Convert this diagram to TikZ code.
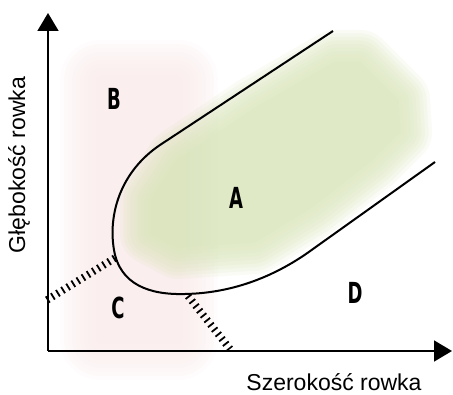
\documentclass[tikz,border=0pt]{standalone}
\usepackage{fontspec}
\setmainfont{Liberation Sans}
\newfontfamily\regfont{DejaVu Sans}
\usetikzlibrary{arrows.meta}
\definecolor{greenc}{RGB}{217,228,186}
\definecolor{pinkc}{RGB}{249,232,232}
\tikzset{
  axis/.style={line width=1.6pt,-{Triangle[length=18pt,width=21pt]}},
  curve/.style={line width=2pt},
  hatch/.style={line width=7.5pt,dash pattern=on 1.8pt off 4.2pt},
  region/.style={font=\fontsize{29}{29}\selectfont\regfont\bfseries},
  axlabel/.style={font=\fontsize{23}{24}\selectfont}
}
\begin{document}
\begin{tikzpicture}[x=1pt,y=-1pt]
\useasboundingbox (0,0) rectangle (453,395);
% pink background (soft)
\foreach \w in {80,72,64,56,48,40,32,24,16,8}{
  \begin{scope}[transparency group,opacity=0.13]
  \filldraw[pinkc,line width=\w pt,line join=round] (100,80) -- (178,80) -- (178,340) -- (100,340) -- cycle;
  \end{scope}
}
% green blob (soft)
\foreach \w in {64,57,50,43,36,29,22,15,8,1}{
  \begin{scope}[transparency group,opacity=0.16]
  \filldraw[greenc,line width=\w pt,line join=round]
    (152,200) -- (178,160) -- (255,108) -- (335,62) -- (360,62) -- (398,100)
    -- (400,132) -- (372,160) -- (312,207) -- (255,242) -- (178,247) -- (152,233) -- cycle;
  \end{scope}
}
% axes
\coordinate (O) at (48,351);
\coordinate (Y) at (48,13);
\coordinate (X) at (452,351);
\draw[axis] (O) -- (Y);
\draw[axis] (O) -- (X);
% boundary curve
\coordinate (c1) at (333,31);
\coordinate (c2) at (160,145);
\coordinate (c3) at (114,250);
\coordinate (c4) at (185,294);
\coordinate (c5) at (313,249);
\coordinate (c6) at (435,162);
\draw[curve] (c1) -- (c2) .. controls (120,172) and (108,215) .. (c3)
  .. controls (120,285) and (150,295) .. (c4)
  .. controls (240,293) and (283,271) .. (c5) -- (c6);
% hatched borders
\coordinate (h1a) at (47,300);
\coordinate (h1b) at (115,258);
\coordinate (h2a) at (188,296);
\coordinate (h2b) at (230,349);
\draw[hatch] (h1a) -- (h1b);
\draw[hatch] (h2a) -- (h2b);
% region labels
\node[region] (A) at (236,198) {\scalebox{0.62}[1]{A}};
\node[region] (B) at (114,99) {\scalebox{0.62}[1]{B}};
\node[region] (C) at (118,308) {\scalebox{0.62}[1]{C}};
\node[region] (D) at (355,293) {\scalebox{0.62}[1]{D}};
% axis labels
\node[axlabel] (xl) at (334,382) {Szerokość rowka};
\node[axlabel,rotate=90] (yl) at (19,165) {Głębokość rowka};
\end{tikzpicture}
\end{document}
